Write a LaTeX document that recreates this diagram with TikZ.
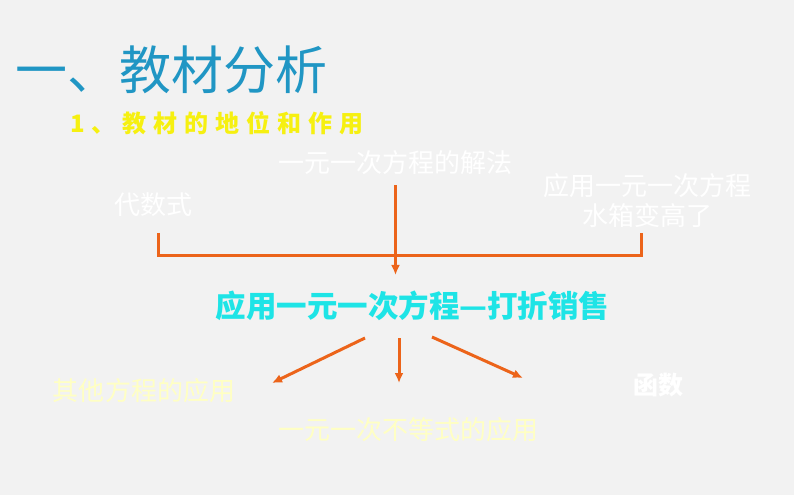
\documentclass[tikz,border=0pt]{standalone}
\usepackage{fontspec}
\setmainfont{Noto Sans CJK SC}
\usetikzlibrary{positioning,arrows.meta}
\definecolor{bggray}{RGB}{242,242,242}
\definecolor{lineorange}{RGB}{236,100,26}
\definecolor{titleblue}{RGB}{32,150,196}
\definecolor{subyellow}{RGB}{246,240,16}
\definecolor{maincyan}{RGB}{30,228,230}
\definecolor{paleyellow}{RGB}{255,255,196}
\newcommand\gap{\hspace{7bp}}

\begin{document}
\begin{tikzpicture}[x=1bp,y=-1bp,
  lbl/.style={inner sep=0pt,align=center,font=\fontsize{26bp}{30bp}\selectfont},
  conn/.style={draw=lineorange,line width=3bp},
  arr/.style={conn,-{Latex[length=10bp,width=9bp]}}]

% background
\fill[bggray] (0,0) rectangle (794,495);
\useasboundingbox (0,0) rectangle (794,495);

% titles
\node[inner sep=0pt,anchor=west,text=titleblue,font=\fontsize{52bp}{56bp}\selectfont] (title) at (15,70) {一、教材分析};
\node[inner sep=0pt,anchor=west,text=subyellow,font=\fontsize{24bp}{28bp}\selectfont\bfseries] (sub) at (70,123) {1\gap{}、\gap{}教\gap{}材\gap{}的\gap{}地\gap{}位\gap{}和\gap{}作\gap{}用};

% upper row
\node[lbl,text=white] (jiefa) at (395.5,163) {一元一次方程的解法};
\node[lbl,text=white] (daishu) at (153.5,205) {代数式};
\node[lbl,text=white] (shuixiang) at (647,201) {应用一元一次方程\\水箱变高了};

% centre
\node[inner sep=0pt,text=maincyan,font=\fontsize{30.5bp}{34bp}\selectfont\bfseries] (main) at (412.5,306) {应用一元一次方程—打折销售};

% lower row
\node[lbl,text=paleyellow] (qita) at (144,391) {其他方程的应用};
\node[lbl,text=paleyellow] (budeng) at (408.5,430) {一元一次不等式的应用};
\node[lbl,text=white,font=\fontsize{25bp}{30bp}\selectfont\bfseries] (hanshu) at (658,385) {函数};

% bracket
\coordinate (bl) at (158,233);
\coordinate (br) at (641,233);
\coordinate (bar) at (396,256);
\coordinate (tip) at (396,275);
\draw[conn] (bl) -- (bl |- bar) -- (br |- bar) -- (br);
\draw[arr] ([yshift=-10bp]jiefa.south) -- (jiefa.south |- tip);

% arrows down
\coordinate (s1) at (365,338);
\coordinate (s2) at (399,338);
\coordinate (s3) at (432,337);
\coordinate (e1) at (272,383);
\coordinate (e2) at (399,383);
\coordinate (e3) at (523,378);
\foreach \i in {1,2,3}
  \draw[arr] (s\i) -- (e\i);

\end{tikzpicture}
\end{document}
